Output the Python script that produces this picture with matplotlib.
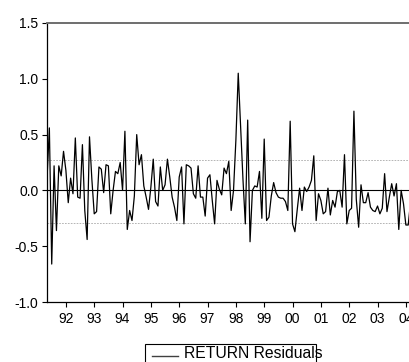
import numpy as np
import matplotlib
matplotlib.use("Agg")
import matplotlib.pyplot as plt
from matplotlib.patches import Rectangle
from matplotlib.lines import Line2D

plt.rcParams["font.family"] = ["Liberation Sans", "DejaVu Sans"]

# monthly residuals, starting 1991:05
start_year = 1991
start_month = 5
residuals = [
    0.10, 0.56, -0.66, 0.22, -0.36, 0.22, 0.13, 0.35, 0.18, -0.11,
    0.11, -0.03, 0.47, -0.06, -0.07, 0.41, -0.18, -0.44, 0.48, 0.10,
    -0.21, -0.19, 0.21, 0.19, -0.02, 0.23, 0.22, -0.21, 0.00, 0.17,
    0.15, 0.25, 0.00, 0.53, -0.35, -0.18, -0.27, -0.05, 0.50, 0.23,
    0.32, 0.04, -0.06, -0.17, 0.03, 0.28, -0.10, -0.14, 0.21, 0.00,
    0.05, 0.28, 0.12, -0.06, -0.15, -0.27, 0.12, 0.21, -0.30, 0.23,
    0.22, 0.20, -0.03, -0.07, 0.22, -0.06, -0.06, -0.23, 0.11, 0.14,
    -0.09, -0.30, 0.09, 0.01, -0.04, 0.20, 0.15, 0.26, -0.18, 0.00,
    0.45, 1.05, 0.58, 0.10, -0.30, 0.63, -0.46, 0.00, 0.04, 0.03,
    0.17, -0.25, 0.46, -0.27, -0.24, -0.05, 0.07, -0.02, -0.06, -0.07,
    -0.07, -0.10, -0.18, 0.62, -0.30, -0.37, -0.17, 0.02, -0.18, 0.03,
    -0.01, 0.03, 0.09, 0.31, -0.27, -0.03, -0.09, -0.21, -0.19, 0.02,
    -0.22, -0.09, -0.15, -0.01, 0.00, -0.15, 0.32, -0.30, -0.18, -0.16,
    0.71, -0.08, -0.33, 0.05, -0.11, -0.11, -0.02, -0.15, -0.18, -0.19,
    -0.14, -0.21, -0.16, 0.15, -0.19, -0.06, 0.06, -0.05, 0.06, -0.35,
    0.00, -0.12, -0.31, -0.31, -0.10,
]
upper_band = 0.27
lower_band = -0.29
years = list(range(1992, 2005))
year_labels = [str(y)[2:] for y in years]
y_ticks = [-1.0, -0.5, 0.0, 0.5, 1.0, 1.5]
series_name = "RETURN Residuals"

t0 = start_year + (start_month - 1) / 12
t = t0 + np.arange(len(residuals)) / 12

fig = plt.figure(figsize=(4.1, 3.62), dpi=100)
ax = fig.add_axes([47 / 410, 1 - 302 / 362, 387.2 / 410, (302 - 23) / 362])

ax.axhline(upper_band, color="#a8a8a8", lw=0.6, ls=(0, (2, 1.5)))
ax.axhline(lower_band, color="#a8a8a8", lw=0.6, ls=(0, (2, 1.5)))
ax.axhline(0, color="black", lw=0.8)
ax.plot(t, residuals, color="black", lw=0.9)

ax.set_xlim(t0, 2005.0)
ax.set_ylim(-1.0, 1.5)
ax.set_xticks(years)
ax.set_xticklabels(year_labels)
ax.set_yticks(y_ticks)
ax.set_yticklabels([f"{v:.1f}" for v in y_ticks])

for side in ["left", "bottom"]:
    ax.spines[side].set_color("black")
    ax.spines[side].set_linewidth(0.9)
ax.spines["top"].set_color("#6e6e6e")
ax.spines["top"].set_linewidth(1.4)
ax.spines["right"].set_visible(False)

ax.tick_params(axis="both", direction="out", length=3.6, width=0.8, labelsize=10)
ax.tick_params(axis="y", pad=2.5)
ax.tick_params(axis="x", pad=3.5)

# legend box, drawn as in the original (text runs over the frame)
fig.patches.append(Rectangle((145 / 410, -0.1), 171 / 410, 0.1 + 1 - 344 / 362,
                             transform=fig.transFigure, fill=False,
                             edgecolor="black", lw=0.8))
fig.lines.append(Line2D([152 / 410, 178 / 410], [1 - 355.5 / 362] * 2,
                        transform=fig.transFigure, color="#404040", lw=1.0))
fig.text(184 / 410, 1 - 354 / 362, series_name, fontsize=11.3, va="center", ha="left")

fig.savefig("out.png", dpi=100)
